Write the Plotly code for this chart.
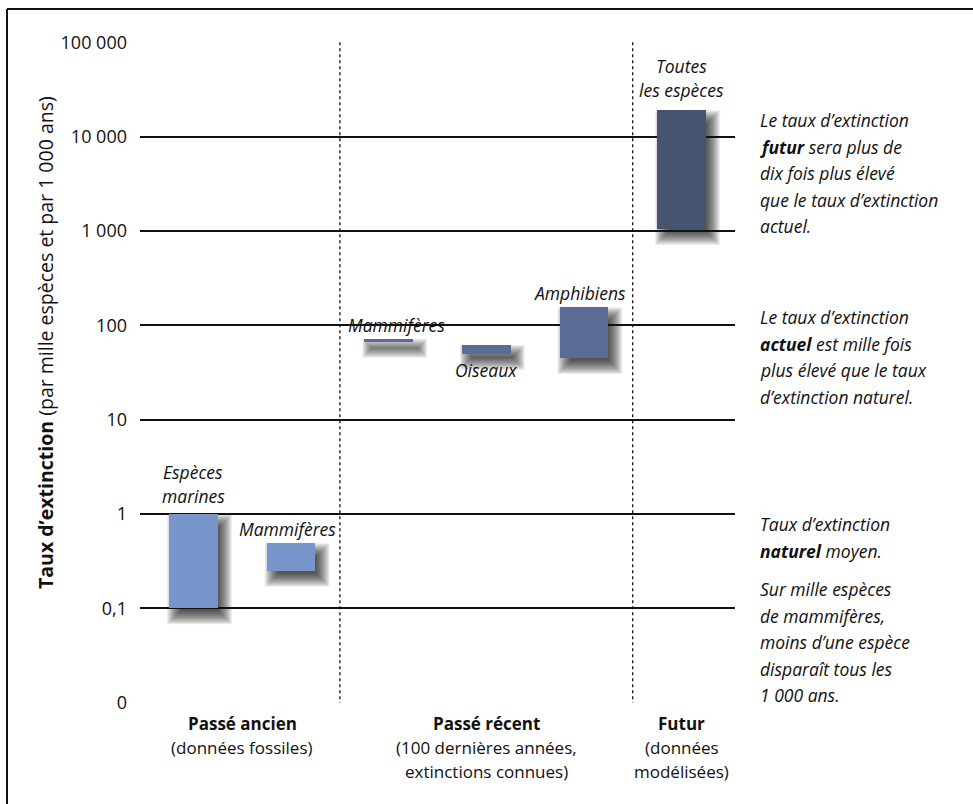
import math
import plotly.graph_objects as go

# ---------------------------------------------------------------- data
bar_labels = [["Espèces", "marines"], ["Mammifères"], ["Mammifères"],
              ["Oiseaux"], ["Amphibiens"], ["Toutes", "les espèces"]]
rate_low = [0.1, 0.25, 67, 50, 45, 1050]
rate_high = [1.0, 0.49, 72, 62, 155, 19000]
bar_colors = ["#7896CC", "#7896CC", "#5A6C96", "#5A6C96", "#5A6C96", "#465470"]

tick_values = [0.01, 0.1, 1, 10, 100, 1000, 10000, 100000]
tick_labels = ["0", "0,1", "1", "10", "100", "1 000", "10 000", "100 000"]

period_titles = ["Passé ancien", "Passé récent", "Futur"]
period_notes = [["(données fossiles)"],
                ["(100 dernières années,", "extinctions connues)"],
                ["(données", "modélisées)"]]
period_centers = [0.5, 3.0, 5.0]
period_dividers = [1.5, 4.5]

notes = [
    ["Le taux d’extinction", "<b>futur</b> sera plus de", "dix fois plus élevé",
     "que le taux d’extinction", "actuel."],
    ["Le taux d’extinction", "<b>actuel</b> est mille fois", "plus élevé que le taux",
     "d’extinction naturel."],
    ["Taux d’extinction", "<b>naturel</b> moyen."],
    ["Sur mille espèces", "de mammifères,", "moins d’une espèce",
     "disparaît tous les", "1 000 ans."],
]

# ---------------------------------------------------------------- geometry
W, H = 973, 804
ML, MR, MT, MB = 140, 238, 42, 101
PW, PH = W - ML - MR, H - MT - MB
XR = (-0.548, 5.548)
YR = (-2.003, 5.003)
FONT = "Open Sans"
INK = "#111111"
FS = 17.5


def xpix(k):
    return ML + (k - XR[0]) / (XR[1] - XR[0]) * PW


def ypix(v):
    return MT + (YR[1] - math.log10(v)) / (YR[1] - YR[0]) * PH


def px(x):
    return (x - ML) / PW


def py(y):
    return (H - MB - y) / PH


positions = list(range(len(rate_low)))
BAR_W = 0.5

fig = go.Figure()
fig.add_trace(go.Bar(
    x=positions,
    base=rate_low,
    y=[h - l for h, l in zip(rate_high, rate_low)],
    width=BAR_W,
    marker=dict(color=bar_colors, line=dict(width=0)),
    hoverinfo="skip",
    showlegend=False,
))

shapes = []

# white patch behind the "Mammifères" label of the recent period
shapes.append(dict(type="rect", xref="paper", yref="paper", layer="between",
                   x0=px(342), x1=px(456), y0=py(335), y1=py(315),
                   fillcolor="white", line=dict(width=0)))

# soft drop shadows under each bar (stacked translucent rectangles)
for k, lo, hi in zip(positions, rate_low, rate_high):
    x0, x1 = xpix(k - BAR_W / 2), xpix(k + BAR_W / 2)
    y0, y1 = ypix(hi), ypix(lo)
    dx, dy = 6, 8
    n = 14
    for j in range(n):
        g = 8 - 14 * j / (n - 1)   # from +8 px outside to -6 px inside
        if (x1 - x0) + 2 * g <= 0.5 or (y1 - y0) + 2 * g <= 0.5:
            continue
        shapes.append(dict(
            type="rect", xref="paper", yref="paper", layer="between",
            x0=px(x0 + dx - g), x1=px(x1 + dx + g),
            y0=py(y1 + dy + g), y1=py(y0 + dy - g),
            fillcolor="rgba(0,0,0,0.075)", line=dict(width=0)))

# dotted period separators
for d in period_dividers:
    shapes.append(dict(type="line", xref="x", yref="paper", layer="above",
                       x0=d, x1=d, y0=py(ypix(100000)), y1=py(ypix(0.01)),
                       line=dict(color=INK, width=1.3, dash="dot")))

# outer frame (left and top edges)
shapes.append(dict(type="line", xref="paper", yref="paper", layer="above",
                   x0=px(7), x1=px(7), y0=py(9), y1=py(H + 5),
                   line=dict(color="#111", width=2)))
shapes.append(dict(type="line", xref="paper", yref="paper", layer="above",
                   x0=px(7), x1=px(W + 5), y0=py(9), y1=py(9),
                   line=dict(color="#111", width=2)))

annotations = []

# bar labels
LINE = 24
label_spec = [  # (anchor side, x shift, gap in px)
    ("top", 0, 8),
    ("top", -4, 4),
    ("top", 8, 4),
    ("bottom", 0, 6),
    ("top", -4, 4),
    ("top", 0, 10),
]
for k, lines, lo, hi, (side, xs, gap) in zip(positions, bar_labels, rate_low,
                                             rate_high, label_spec):
    if side == "top":
        base_y = ypix(hi) - gap
        ys = [base_y - 10 - LINE * (len(lines) - 1 - i) for i in range(len(lines))]
    else:
        base_y = ypix(lo) + gap
        ys = [base_y + 10 + LINE * i for i in range(len(lines))]
    for t, yy in zip(lines, ys):
        annotations.append(dict(
            text=f"<i>{t}</i>", xref="x", yref="paper", x=k, y=py(yy),
            xshift=xs, xanchor="center", yanchor="middle", showarrow=False,
            font=dict(family=FONT, size=FS, color=INK)))

# period labels under the axis
for c, title, sub in zip(period_centers, period_titles, period_notes):
    annotations.append(dict(
        text=f"<b>{title}</b>", xref="x", yref="paper", x=c, y=py(723),
        xanchor="center", yanchor="middle", showarrow=False,
        font=dict(family=FONT, size=17, color=INK)))
    for i, t in enumerate(sub):
        annotations.append(dict(
            text=t, xref="x", yref="paper", x=c, y=py(747 + 24 * i),
            xanchor="center", yanchor="middle", showarrow=False,
            font=dict(family=FONT, size=17, color=INK)))

# side commentary
note_tops = [120, 317, 524, 589]
for top, block in zip(note_tops, notes):
    for i, t in enumerate(block):
        annotations.append(dict(
            text=f"<i>{t}</i>", xref="paper", yref="paper", x=px(758),
            y=py(top + 26.5 * i), xanchor="left", yanchor="middle",
            showarrow=False, font=dict(family=FONT, size=FS, color=INK)))

# y-axis title
annotations.append(dict(
    text="<b>Taux d’extinction</b> (par mille espèces et par 1 000 ans)",
    xref="paper", yref="paper", x=px(45), y=py(343), textangle=-90,
    xanchor="center", yanchor="middle", showarrow=False,
    font=dict(family=FONT, size=19.5, color=INK)))

fig.update_layout(
    width=W, height=H,
    margin=dict(l=ML, r=MR, t=MT, b=MB, pad=0),
    paper_bgcolor="white", plot_bgcolor="white",
    font=dict(family=FONT, color=INK),
    showlegend=False,
    bargap=0,
    xaxis=dict(range=list(XR), showgrid=False, zeroline=False,
               showticklabels=False, showline=False, ticks=""),
    yaxis=dict(type="log", range=list(YR), tickvals=tick_values,
               ticktext=tick_labels, showgrid=True, gridcolor="#111",
               gridwidth=2, zeroline=False, showline=False, ticks="",
               ticklabelstandoff=12,
               tickfont=dict(family=FONT, size=18, color=INK)),
    shapes=shapes,
    annotations=annotations,
)

fig.write_html("out.html")
